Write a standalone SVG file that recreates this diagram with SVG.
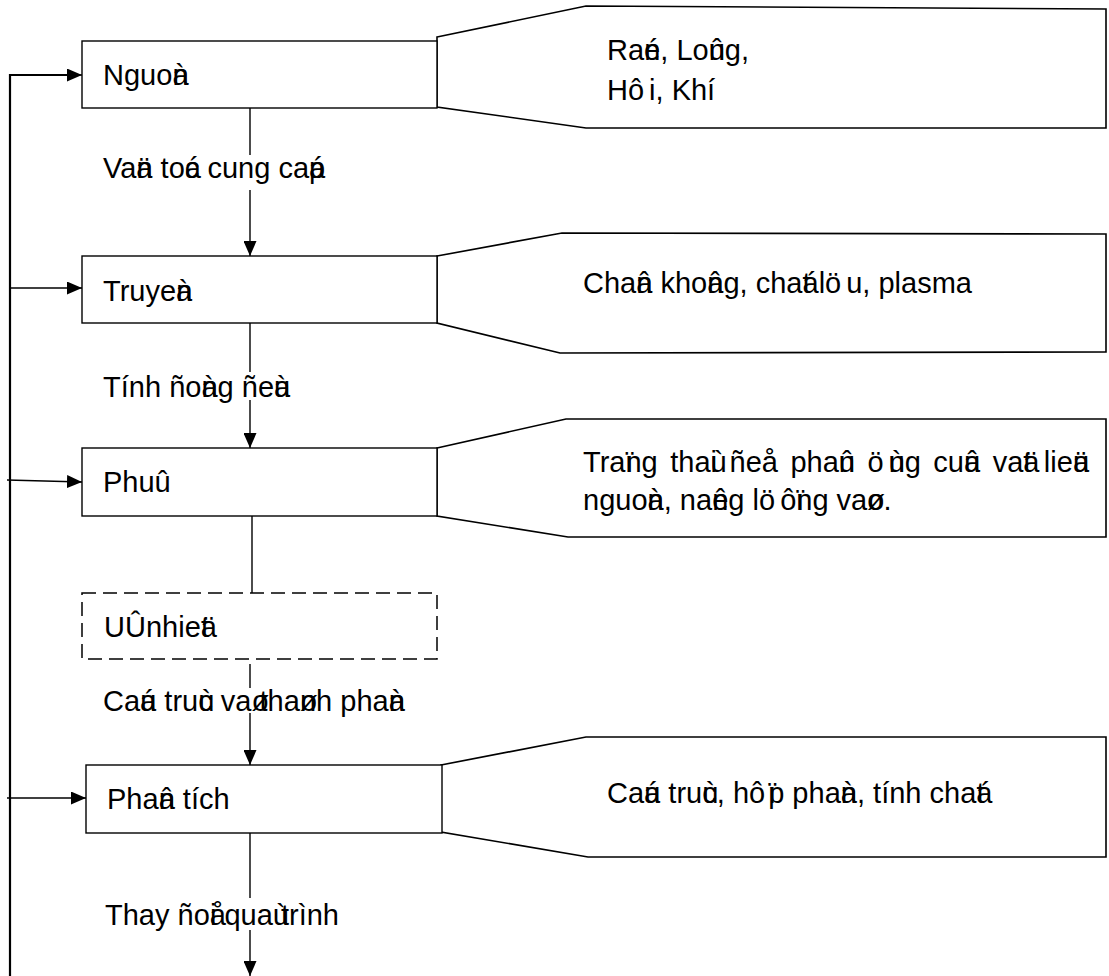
<svg xmlns="http://www.w3.org/2000/svg" width="1109" height="976" viewBox="0 0 1109 976">
<style>
.box{fill:#fff;stroke:#000;stroke-width:1.4}
.dash{fill:#fff;stroke:#000;stroke-width:1.5;stroke-dasharray:14 7}
.call{fill:#fff;stroke:#000;stroke-width:1.6}
.ln{stroke:#000;stroke-width:1.4;fill:none}
.bold{stroke:#000;stroke-width:2.2;fill:none}
.t{font-family:"Liberation Sans",Arial,sans-serif;font-size:29px;fill:#000}
.bg{fill:#fff}
</style>
<defs>
<marker id="ah" markerUnits="userSpaceOnUse" markerWidth="15" markerHeight="13" refX="15" refY="6.5" orient="auto">
<path d="M0,0 L15,6.5 L0,13 Z" fill="#000"/>
</marker>
</defs>
<g id="callouts">
<g id="c-nguon"><polygon class="call" points="437,37 586,6 1106,9 1106,128 586,128 437,107"/>
<text class="t" x="607" y="60" dx="0 0 0 -16.1 0 0 0 0 0 -16.1">Raén, Loûng,</text>
<text class="t" x="607" y="100" dx="0 0 5">Hôi, Khí</text></g>
<g id="c-truyen"><polygon class="call" points="437,256 562,233 1106,234 1106,352 560,353 437,323"/>
<text class="t" x="583" y="293" dx="0 0 0 0 -16.1 0 0 0 0 0 -16.1 0 0 0 0 0 0 0 -16.1 0 0 0 5">Chaân khoâng, chaát löu, plasma</text></g>
<g id="c-phu"><polygon class="call" points="437,448 566,419 1106,419 1106,537 568,537 437,516"/>
<text class="t" x="583" y="472" dx="0 0 0 0 -8.06 0 0 4.4 0 0 0 -16.1 0 4.4 0 0 0 4.4 0 0 0 -16.1 0 4.4 5 -16.1 0 0 4.4 0 0 -16.1 0 4.4 0 0 -16.1 0 4.4 0 0 0 -16.1">Traïng thaùi ñeå phaûn öùng cuûa vaät lieäu</text>
<text class="t" x="583" y="510" dx="0 0 0 0 0 -16.1 0 0 0 0 0 -16.1 0 0 0 0 5 0 -8.06 0 0 0 0 0 -17.7">nguoàn, naêng löôïng vaøo.</text></g>
<g id="c-phantich"><polygon class="call" points="441,765 586,737 1106,737 1106,857 588,857 441,832"/>
<text class="t" x="607" y="803" dx="0 0 0 -16.1 0 0 0 0 0 -16.1 0 0 0 0 3 -8.06 0 0 0 0 0 -16.1 0 0 0 0 0 0 0 0 0 0 0 -16.1">Caáu truùc, hôïp phaàn, tính chaát</text></g>
</g>
<g id="connectors">
<line class="ln" x1="250" y1="108" x2="250" y2="256" marker-end="url(#ah)"/>
<line class="ln" x1="250" y1="323" x2="250" y2="448" marker-end="url(#ah)"/>
<line class="ln" x1="252" y1="516" x2="252" y2="593"/>
<line class="ln" x1="250" y1="664" x2="250" y2="765" marker-end="url(#ah)"/>
<line class="ln" x1="250" y1="833" x2="250" y2="976" marker-end="url(#ah)"/>
<polyline class="bold" points="10,976 10,75 68,75"/>
<line class="ln" x1="66" y1="75" x2="82" y2="75" marker-end="url(#ah)"/>
<line class="ln" x1="10" y1="288" x2="82" y2="288" marker-end="url(#ah)"/>
<line class="ln" x1="7" y1="480" x2="82" y2="482" marker-end="url(#ah)"/>
<line class="ln" x1="7" y1="798" x2="86" y2="798" marker-end="url(#ah)"/>
</g>
<g id="labels">
<rect class="bg" x="100" y="155" width="245" height="35"/>
<text class="t" x="103" y="178" dx="0 0 0 -16.1 0 0 0 0 -16.1 0 0 0 0 0 0 0 0 0 -16.1">Vaän toác cung caáp</text>
<rect class="bg" x="100" y="372" width="220" height="28"/>
<text class="t" x="103" y="397" dx="0 0 0 0 0 0 0 0 -16.1 0 0 0 0 0 -16.1">Tính ñoàng ñeàu</text>
<rect class="bg" x="100" y="688" width="330" height="25"/>
<text class="t" x="103" y="711" dx="0 0 0 -16.1 0 0 0 0 0 -16.1 0 0 0 0 -17.7 0 0 0 0 -17.7 0 0 0 0 0 0 -16.1">Caáu truùc vaø thaønh phaàn</text>
<rect class="bg" x="100" y="898" width="250" height="32"/>
<text class="t" x="105" y="925" dx="0 0 0 0 0 0 0 0 -16.1 0 0 0 0 0 -16.1">Thay ñoåi quaù trình</text>
</g>
<g id="n-nguon"><rect class="box" x="82" y="41" width="355" height="67"/><text class="t" x="103" y="85" dx="0 0 0 0 0 -16.1">Nguoàn</text></g>
<g id="n-truyen"><rect class="box" x="82" y="256" width="355" height="67"/><text class="t" x="103" y="301" dx="0 0 0 0 0 0 -16.1">Truyeàn</text></g>
<g id="n-phu"><rect class="box" x="82" y="448" width="355" height="68"/><text class="t" x="103" y="492">Phuû</text></g>
<g id="n-uhiet"><rect class="dash" x="82" y="593" width="355" height="66"/><text class="t" x="104" y="637" dx="0 0 -8 0 0 0 0 0 -16.1">UÛ nhieät</text></g>
<g id="n-phantich"><rect class="box" x="86" y="765" width="356" height="68"/><text class="t" x="107" y="809" dx="0 0 0 0 -16.1">Phaân tích</text></g>
</svg>
